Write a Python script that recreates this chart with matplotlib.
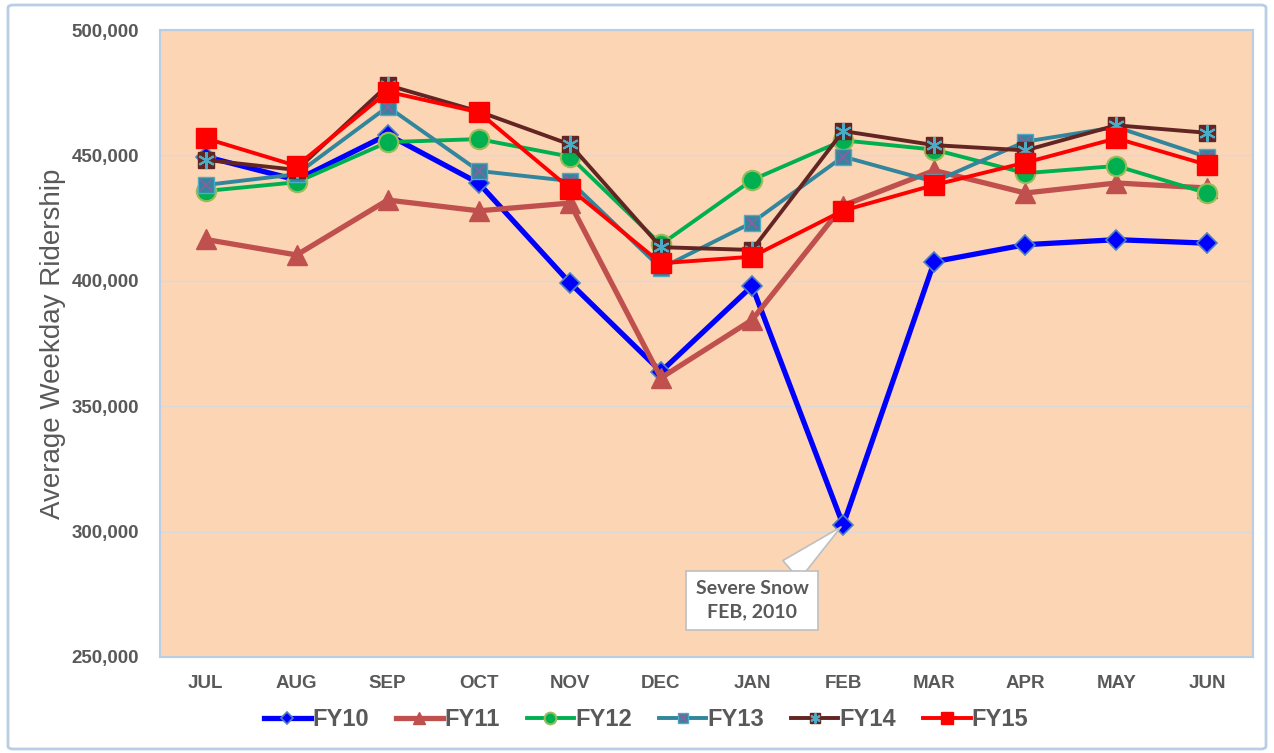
import matplotlib
matplotlib.use("Agg")
import matplotlib.pyplot as plt
from matplotlib.patches import FancyBboxPatch
from matplotlib.ticker import FuncFormatter

months = ["JUL", "AUG", "SEP", "OCT", "NOV", "DEC", "JAN", "FEB", "MAR", "APR", "MAY", "JUN"]
fy10 = [449500, 440200, 458300, 438900, 399200, 363800, 397900, 302600, 407600, 414400, 416400, 415000]
fy11 = [416500, 410300, 432200, 427900, 431000, 361300, 384400, 430000, 444000, 435000, 439000, 437000]
fy12 = [435800, 439300, 455300, 456500, 449500, 414500, 440200, 456000, 452300, 442900, 445800, 434900]
fy13 = [438200, 442500, 469400, 443800, 439800, 405000, 423200, 449500, 439500, 455500, 461300, 449300]
fy14 = [448200, 444200, 478000, 467500, 454400, 413400, 412300, 459700, 454100, 452000, 462000, 459000]
fy15 = [456800, 445800, 475400, 467200, 436800, 407000, 409600, 428000, 438200, 447100, 456800, 446200]
y_ticks = [250000, 300000, 350000, 400000, 450000, 500000]

GRAY = "#595959"
FONT = ["Liberation Sans", "DejaVu Sans"]

fig = plt.figure(figsize=(12.74, 7.53), dpi=100)
ax = fig.add_axes([160 / 1274, 1 - 657 / 753, (1253 - 160) / 1274, (657 - 30) / 753])
ax.set_facecolor("#FCD5B5")

x = list(range(len(months)))

h10, = ax.plot(x, fy10, color="#0000FF", lw=3.8, marker="D", ms=10,
               mfc="#0000FF", mec="#4F81BD", mew=1.2, zorder=3, label="FY10")
h11, = ax.plot(x, fy11, color="#C0504D", lw=3.8, marker="^", ms=15,
               mfc="#C0504D", mec="#C0504D", zorder=4, label="FY11")
h12, = ax.plot(x, fy12, color="#00B050", lw=2.8, marker="o", ms=14,
               mfc="#00B050", mec="#9BBB59", mew=1.5, zorder=5, label="FY12")
h13, = ax.plot(x, fy13, color="#31859C", lw=2.8, marker="s", ms=11.5,
               mfc="#31859C", mec="#4BACC6", mew=1, zorder=6)
h13x, = ax.plot(x, fy13, ls="none", marker="x", ms=9, mec="#8064A2", mew=1.5, zorder=6.1)
h14, = ax.plot(x, fy14, color="#632523", lw=2.8, marker="s", ms=11,
               mfc="#632523", mec="#632523", zorder=7)
h14x, = ax.plot(x, fy14, ls="none", marker=(6, 2, 0), ms=12, mec="#4BACC6", mew=1.5, zorder=7.1)
h15, = ax.plot(x, fy15, color="#FF0000", lw=2.8, marker="s", ms=15,
               mfc="#FF0000", mec="#FF0000", zorder=8, label="FY15")

ax.set_xlim(-0.5, len(months) - 0.5)
ax.set_ylim(250000, 500000)
ax.set_yticks(y_ticks)
ax.yaxis.set_major_formatter(FuncFormatter(lambda v, p: f"{int(v):,}"))
ax.set_xticks(x)
ax.set_xticklabels(months)
ax.tick_params(length=0, colors=GRAY)
ax.tick_params(axis="y", pad=15)
ax.tick_params(axis="x", pad=13)
for lab in ax.get_xticklabels() + ax.get_yticklabels():
    lab.set_fontfamily(FONT)
    lab.set_fontweight("bold")
    lab.set_fontsize(13.5)
    lab.set_color(GRAY)
ax.grid(axis="y", color="#D9D9D9", lw=1)
ax.set_axisbelow(True)
for s in ax.spines.values():
    s.set_color("#B9CDE5")
    s.set_linewidth(1.5)

ax.set_ylabel("Average Weekday Ridership", fontsize=20, color=GRAY,
              family=FONT, labelpad=4)

ax.annotate("Severe Snow\nFEB, 2010", xy=(7, fy10[7]), xytext=(6, 272500),
            textcoords="data", ha="center", va="center", fontsize=14,
            fontweight="bold", color=GRAY, family=["Lato", "DejaVu Sans"],
            linespacing=1.45,
            bbox=dict(boxstyle="square,pad=0.5", fc="white", ec="#BFBFBF", lw=1.2),
            arrowprops=dict(arrowstyle="wedge,tail_width=1.3,shrink_factor=0.5", fc="white",
                            ec="#BFBFBF", lw=1.2, relpos=(0.72, 0.95),
                            shrinkA=0, shrinkB=2),
            zorder=10)

leg = fig.legend([h10, h11, h12, (h13, h13x), (h14, h14x), h15],
                 ["FY10", "FY11", "FY12", "FY13", "FY14", "FY15"],
                 loc="center", bbox_to_anchor=(646 / 1274, 1 - 720 / 753),
                 ncol=6, frameon=False, markerscale=0.6, handlelength=2.0,
                 handletextpad=0.05, columnspacing=1.15,
                 prop=dict(family=FONT, weight="bold", size=17))
for t in leg.get_texts():
    t.set_color(GRAY)

border = FancyBboxPatch((8 / 1274, 4 / 753), 1258 / 1274, 744 / 753,
                        boxstyle="round,pad=0,rounding_size=0.004",
                        transform=fig.transFigure, fc="none", ec="#B9CDE5", lw=2)
fig.patches.append(border)

fig.savefig("out.png", dpi=100)
